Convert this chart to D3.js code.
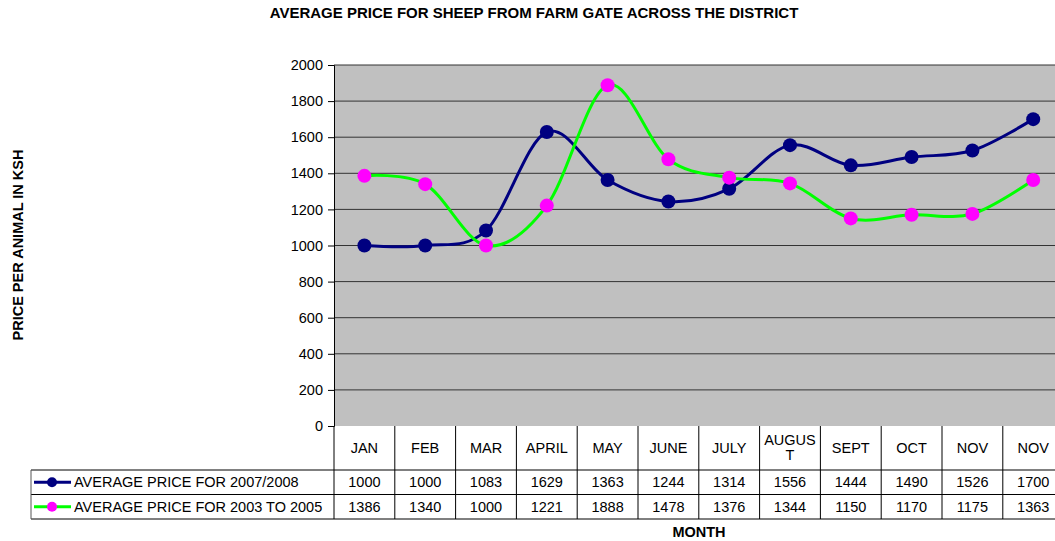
<!DOCTYPE html>
<html>
<head>
<meta charset="utf-8">
<script src="https://cdn.jsdelivr.net/npm/d3@7"></script>
<style>
  body { margin: 0; background: #fff; }
  svg { font-family: "Liberation Sans", Arial, sans-serif; display: block; }
</style>
</head>
<body>
<div id="chart"></div>
<script>
const months = ["JAN", "FEB", "MAR", "APRIL", "MAY", "JUNE", "JULY", "AUGUST", "SEPT", "OCT", "NOV", "NOV"];
const price2007 = [1000, 1000, 1083, 1629, 1363, 1244, 1314, 1556, 1444, 1490, 1526, 1700];
const price2003 = [1386, 1340, 1000, 1221, 1888, 1478, 1376, 1344, 1150, 1170, 1175, 1363];
const yTicks = [0, 200, 400, 600, 800, 1000, 1200, 1400, 1600, 1800, 2000];

const series = [
    { name: "AVERAGE PRICE FOR 2007/2008", values: price2007, line: "#000080", marker: "#000080" },
    { name: "AVERAGE PRICE FOR 2003 TO 2005", values: price2003, line: "#00FF00", marker: "#FF00FF" }
];

const W = 1055, H = 541;
const plot = { left: 334, top: 65, bottom: 426 };
const colW = 60.8;
const plotRight = plot.left + colW * months.length;

const svg = d3.select("#chart").append("svg")
    .attr("width", W)
    .attr("height", H);

// Title
svg.append("text")
    .attr("x", 534).attr("y", 18)
    .attr("text-anchor", "middle")
    .style("font-size", "15px").style("font-weight", "bold")
    .text("AVERAGE PRICE FOR SHEEP FROM FARM GATE ACROSS THE DISTRICT");

// Scales
const x = d3.scaleBand().domain(d3.range(months.length)).range([plot.left, plotRight]);
const y = d3.scaleLinear().domain([0, 2000]).range([plot.bottom, plot.top]);

// Plot background
svg.append("rect")
    .attr("x", plot.left).attr("y", plot.top)
    .attr("width", plotRight - plot.left).attr("height", plot.bottom - plot.top)
    .attr("fill", "#C0C0C0");

// Gridlines
svg.append("g")
    .selectAll("line")
    .data(yTicks.filter(d => d > 0))
    .join("line")
    .attr("x1", plot.left).attr("x2", plotRight)
    .attr("y1", d => y(d)).attr("y2", d => y(d))
    .attr("stroke", "#333").attr("stroke-width", 1);

// Y axis
const yAxis = svg.append("g")
    .attr("transform", `translate(${plot.left},0)`)
    .call(d3.axisLeft(y).tickValues(yTicks).tickFormat(d3.format("d")).tickSize(6).tickPadding(5));
yAxis.select(".domain").attr("stroke", "#000");
yAxis.selectAll(".tick line").attr("stroke", "#000");
yAxis.selectAll("text").style("font-size", "14.5px").attr("fill", "#000");

// Y-axis label
svg.append("text")
    .attr("transform", `translate(23, 245) rotate(-90)`)
    .attr("text-anchor", "middle")
    .style("font-size", "14.5px").style("font-weight", "bold")
    .text("PRICE PER ANIMAL IN KSH");

// Lines
const line = d3.line()
    .x((d, i) => x(i) + x.bandwidth() / 2)
    .y(d => y(d))
    .curve(d3.curveCatmullRom.alpha(0));

series.forEach(s => {
    svg.append("path")
        .datum(s.values)
        .attr("fill", "none")
        .attr("stroke", s.line)
        .attr("stroke-width", 3)
        .attr("d", line);
});
series.forEach(s => {
    svg.append("g")
        .selectAll("circle")
        .data(s.values)
        .join("circle")
        .attr("cx", (d, i) => x(i) + x.bandwidth() / 2)
        .attr("cy", d => y(d))
        .attr("r", 7)
        .attr("fill", s.marker);
});

// Data table
const rowTop = plot.bottom;
const headH = 44, rowH = 24.5;
const legendLeft = 31;
const fs = "14.5px";
const table = svg.append("g");

// horizontal lines
const rowLines = [rowTop + headH, rowTop + headH + rowH, rowTop + headH + 2 * rowH];
table.selectAll(".hline")
    .data(rowLines)
    .join("line")
    .attr("x1", legendLeft).attr("x2", plotRight)
    .attr("y1", d => d).attr("y2", d => d)
    .attr("stroke", "#000");

// vertical lines
const colEdges = d3.range(months.length + 1).map(i => plot.left + i * colW);
table.selectAll(".vline")
    .data(colEdges)
    .join("line")
    .attr("x1", d => d).attr("x2", d => d)
    .attr("y1", rowTop).attr("y2", rowTop + headH + 2 * rowH)
    .attr("stroke", "#000");
table.append("line")
    .attr("x1", legendLeft).attr("x2", legendLeft)
    .attr("y1", rowTop + headH).attr("y2", rowTop + headH + 2 * rowH)
    .attr("stroke", "#555");

// month labels, wrapped by characters when too wide
months.forEach((m, i) => {
    const cx = x(i) + x.bandwidth() / 2;
    const t = table.append("text")
        .attr("text-anchor", "middle")
        .style("font-size", fs)
        .attr("x", cx).attr("y", rowTop + headH / 2 + 5)
        .text(m);
    if (t.node().getComputedTextLength() > colW - 6) {
        let k = m.length;
        while (k > 1) {
            t.text(m.slice(0, k));
            if (t.node().getComputedTextLength() <= colW - 6) break;
            k--;
        }
        t.text(null);
        t.attr("y", rowTop + headH / 2 - 3);
        t.append("tspan").attr("x", cx).text(m.slice(0, k));
        t.append("tspan").attr("x", cx).attr("dy", 15).text(m.slice(k));
    }
});

// series rows
series.forEach((s, r) => {
    const cy = rowTop + headH + r * rowH + rowH / 2;
    table.append("line")
        .attr("x1", legendLeft + 3).attr("x2", legendLeft + 40)
        .attr("y1", cy).attr("y2", cy)
        .attr("stroke", s.line).attr("stroke-width", 3);
    table.append("circle")
        .attr("cx", legendLeft + 21).attr("cy", cy).attr("r", 5)
        .attr("fill", s.marker);
    table.append("text")
        .attr("x", legendLeft + 43).attr("y", cy + 5)
        .style("font-size", fs)
        .text(s.name);
    table.append("g")
        .selectAll("text")
        .data(s.values)
        .join("text")
        .attr("x", (d, i) => x(i) + x.bandwidth() / 2)
        .attr("y", cy + 5)
        .attr("text-anchor", "middle")
        .style("font-size", fs)
        .text(d => d);
});

// X-axis label
svg.append("text")
    .attr("x", 699).attr("y", 537)
    .attr("text-anchor", "middle")
    .style("font-size", "14.5px").style("font-weight", "bold")
    .text("MONTH");
</script>
</body>
</html>
